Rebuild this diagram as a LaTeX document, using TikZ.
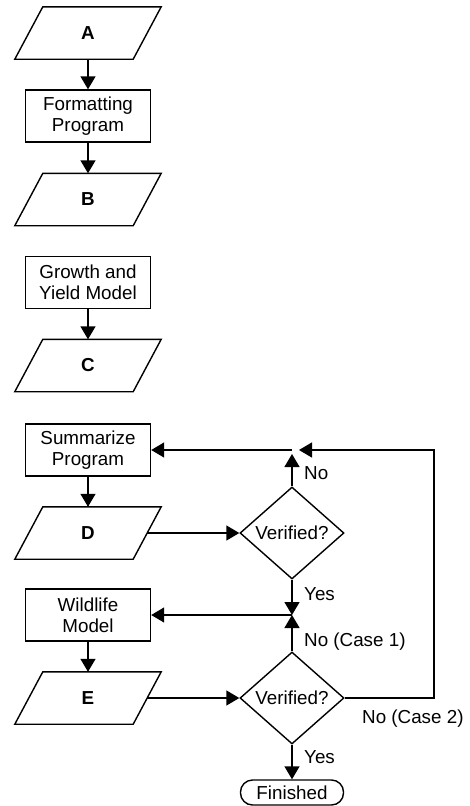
\documentclass[tikz,border=0pt]{standalone}
\usepackage{fontspec}
\setmainfont{Liberation Sans}
\usetikzlibrary{arrows.meta,shapes.geometric,calc}

\begin{document}
\begin{tikzpicture}[x=1pt,y=-1pt,
  every node/.style={font=\fontsize{18.8}{21}\selectfont, inner sep=0pt},
  line/.style={line width=1.4pt},
  flow/.style={line, -{Triangle[length=13pt,width=15pt]}},
  procbox/.style={draw, line width=1.4pt, minimum width=125pt, minimum height=52pt, align=center},
  iobox/.style={minimum width=118pt, minimum height=52pt, font=\fontsize{18.8}{21}\selectfont\bfseries},
  decision/.style={diamond, draw, line width=1.4pt, minimum width=104pt, minimum height=92pt, aspect=1.13},
  terminal/.style={draw, line width=1.4pt, rounded corners=12pt, minimum width=103pt, minimum height=25pt},
  lbl/.style={anchor=west}
]
\useasboundingbox (0,0) rectangle (469,806);

% nodes
\node[iobox] (A) at (88,33) {A};
\node[procbox] (fmt) at (88,116) {Formatting\\Program};
\node[iobox] (B) at (88,199.5) {B};
\node[procbox] (grow) at (88,282.5) {Growth and\\Yield Model};
\node[iobox] (C) at (88,365.5) {C};
\node[procbox] (summ) at (88,450) {Summarize\\Program};
\node[iobox] (D) at (88,533) {D};
\node[decision] (v1) at (292,533) {Verified?};
\node[procbox] (wild) at (88,615) {Wildlife\\Model};
\node[iobox] (E) at (88,698) {E};
\node[decision] (v2) at (292,698) {Verified?};
\node[terminal] (fin) at (292,792.5) {Finished};

% parallelogram outlines for the data nodes
\foreach \n in {A,B,C,D,E}
  \draw[line] ($(\n.north west)+(14,0)$) -- ($(\n.north east)+(14,0)$)
    -- ($(\n.south east)+(-14,0)$) -- ($(\n.south west)+(-14,0)$) -- cycle;

% junctions and loop-back corner
\coordinate (j1) at (292,450);
\coordinate (j2) at (292,615);
\coordinate (rt) at (434,450);

% connectors
\draw[flow] (A) -- (fmt);
\draw[flow] (fmt) -- (B);
\draw[flow] (grow) -- (C);
\draw[flow] (summ) -- (D);
\draw[flow] (wild) -- (E);
\draw[flow] (D.east) -- (v1.west);
\draw[flow] (E.east) -- (v2.west);
\draw[flow, shorten >=4pt] (v1.north) -- (j1);
\draw[flow] (j1) -- (j1 -| summ.east);
\draw[flow] (v1.south) -- (j2);
\draw[flow] (v2.north) -- (j2);
\draw[flow] (j2) -- (j2 -| wild.east);
\draw[flow, shorten >=7pt] (v2.east) -- (v2.east -| rt) -- (rt) -- (j1);
\draw[flow] (v2.south) -- (fin.north);

% branch labels
\node[lbl] at (304,473) {No};
\node[lbl] at (304,594) {Yes};
\node[lbl] at (304,642) {No (Case 1)};
\node[lbl] at (362,719) {No (Case 2)};
\node[lbl] at (304,757) {Yes};
\end{tikzpicture}
\end{document}
